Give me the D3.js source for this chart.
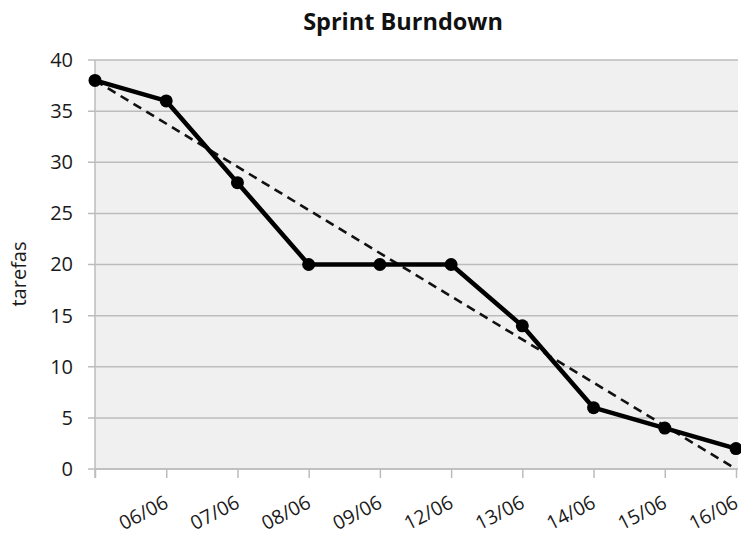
<!DOCTYPE html>
<html><head><meta charset="utf-8">
<script src="https://cdn.jsdelivr.net/npm/d3@7"></script>
<style>body{margin:0;background:#fff}svg{display:block}</style>
</head><body>
<svg id="c" width="741" height="538"></svg>
<script>
const categories = ["", "06/06", "07/06", "08/06", "09/06", "12/06", "13/06", "14/06", "15/06", "16/06"];
const remaining = [38, 36, 28, 20, 20, 20, 14, 6, 4, 2];
const ideal = [38, 0];
const yTicks = [0, 5, 10, 15, 20, 25, 30, 35, 40];
const title = "Sprint Burndown";
const yLabel = "tarefas";

const svg = d3.select("#c");
const font = "'Open Sans', sans-serif";
const L = 95, R = 736, T = 60, B = 469;

const x = d3.scalePoint().domain(d3.range(categories.length)).range([L, R]);
const y = d3.scaleLinear().domain([0, 40]).range([B, T]);

svg.append("rect").attr("x", L).attr("y", T).attr("width", R - L + 2).attr("height", B - T).attr("fill", "#f1f0f0");

// gridlines
svg.append("g").selectAll("line").data(yTicks).join("line")
  .attr("x1", L - 7).attr("x2", R + 2).attr("y1", d => y(d)).attr("y2", d => y(d))
  .attr("stroke", "#bcbcbc").attr("stroke-width", 1.5);

// y axis line
svg.append("line").attr("x1", L).attr("x2", L).attr("y1", T).attr("y2", B + 9)
  .attr("stroke", "#bcbcbc").attr("stroke-width", 1.5);

// x axis
const xAxis = d3.axisBottom(x).tickSize(9).tickFormat(i => categories[i]);
const gx = svg.append("g").attr("transform", `translate(0,${B})`).call(xAxis);
gx.select(".domain").attr("stroke", "#bcbcbc").attr("stroke-width", 1.5).attr("d", `M${L},0H${R + 2}`);
gx.selectAll(".tick line").attr("stroke", "#bcbcbc").attr("stroke-width", 1.5);
gx.selectAll(".tick text")
  .attr("font-family", font).attr("font-size", 19.5).attr("fill", "#1a1a1a")
  .attr("text-anchor", "end").attr("x", 0).attr("y", 0).attr("dy", 0)
  .attr("transform", "translate(3,38) rotate(-27)");

// y axis labels
const yAxis = d3.axisLeft(y).tickValues(yTicks).tickSize(0).tickPadding(0);
const gy = svg.append("g").attr("transform", `translate(${L - 22},0)`).call(yAxis);
gy.select(".domain").remove();
gy.selectAll(".tick text").attr("font-family", font).attr("font-size", 20).attr("fill", "#1a1a1a");

// ideal dashed line
svg.append("line")
  .attr("x1", x(0)).attr("y1", y(ideal[0]))
  .attr("x2", x(categories.length - 1)).attr("y2", y(ideal[1]))
  .attr("stroke", "#111").attr("stroke-width", 2.6).attr("stroke-dasharray", "9,6");

// actual line
const line = d3.line().x((d, i) => x(i)).y(d => y(d));
svg.append("path").datum(remaining).attr("d", line)
  .attr("fill", "none").attr("stroke", "#000").attr("stroke-width", 4.5).attr("stroke-linejoin", "round");
svg.append("g").selectAll("circle").data(remaining).join("circle")
  .attr("cx", (d, i) => x(i)).attr("cy", d => y(d)).attr("r", 6.5).attr("fill", "#000");

// title
svg.append("text").attr("x", 403).attr("y", 30).attr("text-anchor", "middle")
  .attr("font-family", font).attr("font-weight", "bold").attr("font-size", 23.5).attr("fill", "#111").text(title);

// y label
svg.append("text").attr("transform", "translate(26,274) rotate(-90)").attr("text-anchor", "middle")
  .attr("font-family", font).attr("font-size", 20).attr("fill", "#1a1a1a").text(yLabel);
</script>
</body></html>
